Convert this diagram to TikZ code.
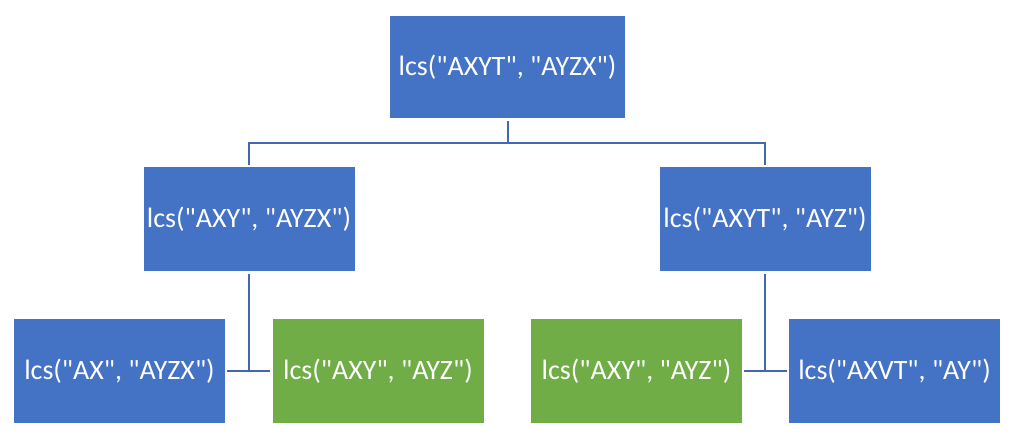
\documentclass[tikz,border=0pt]{standalone}
\usepackage{fontspec}
\setmainfont{Carlito}[Ligatures=TeXOff]
\definecolor{bl}{HTML}{4472C4}
\definecolor{gr}{HTML}{70AD47}
\definecolor{ln}{HTML}{4068B4}
\begin{document}
\begin{tikzpicture}[x=1pt,y=-1pt,
  box/.style={fill=bl, draw=none, text=white, minimum width=211pt, minimum height=104pt, inner sep=0pt, font=\fontsize{28}{32}\selectfont},
  gbox/.style={box, fill=gr},
  conn/.style={draw=ln, line width=1.8pt}]
\useasboundingbox (0,0) rectangle (1012,436);
\node[box, minimum width=235pt, minimum height=102pt] (top) at (507.5,67) {lcs("AXYT", "AYZX")};
\node[box] (ml) at (249,219) {lcs("AXY", "AYZX")};
\node[box] (mr) at (765,219) {lcs("AXYT", "AYZ")};
\node[box] (b1) at (119.5,371) {lcs("AX", "AYZX")};
\node[gbox] (b2) at (378,371) {lcs("AXY", "AYZ")};
\node[gbox] (b3) at (636.5,371) {lcs("AXY", "AYZ")};
\node[box] (b4) at (894.5,371) {lcs("AXVT", "AY")};
\coordinate (bar) at (508,143);
\draw[conn] ([yshift=-3pt]top.south -| bar) -- (bar);
\draw[conn] (bar) -| ([yshift=2pt]ml.north);
\draw[conn] (bar) -| ([yshift=2pt]mr.north);
\draw[conn] ([yshift=-3pt]ml.south) -- (ml.south |- b1.east);
\draw[conn] ([xshift=2pt]b1.east) -- ([xshift=-2pt]b2.west);
\draw[conn] ([yshift=-3pt]mr.south) -- (mr.south |- b4.west);
\draw[conn] ([xshift=2pt]b3.east) -- ([xshift=-2pt]b4.west);
\end{tikzpicture}
\end{document}
